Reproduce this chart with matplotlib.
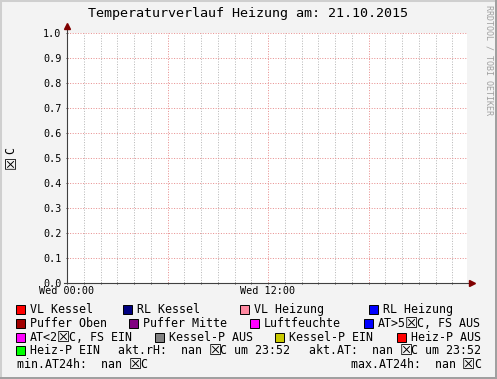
import numpy as np
import matplotlib
matplotlib.use('Agg')
from matplotlib import pyplot as plt
from matplotlib.patches import Rectangle

# chart content
BOX = '\u2612'   # stands in for the missing degree glyph of the original
title = 'Temperaturverlauf Heizung am: 21.10.2015'
y_ticks = [0.0, 0.1, 0.2, 0.3, 0.4, 0.5, 0.6, 0.7, 0.8, 0.9, 1.0]
hour_major = [0, 6, 12, 18]
hour_labels = ['Wed 00:00', '', 'Wed 12:00', '']
hour_minor = list(range(24))
x_span_hours = 23.88

legend_rows = [
    ['VL Kessel', 'RL Kessel', 'VL Heizung', 'RL Heizung'],
    ['Puffer Oben', 'Puffer Mitte', 'Luftfeuchte', 'AT>5' + BOX + 'C, FS AUS'],
    ['AT<2' + BOX + 'C, FS EIN', 'Kessel-P AUS', 'Kessel-P EIN', 'Heiz-P AUS'],
    ['Heiz-P EIN'],
]
legend_colors = [
    ['#ff0000', '#000080', '#ff88a0', '#0000ff'],
    ['#a00000', '#800080', '#ff00ff', '#0000ff'],
    ['#ff00ff', '#808080', '#c8c800', '#ff0000'],
    ['#00ff00'],
]
# x position of the coloured box per column (pixels), per row
legend_box_x = [
    [16, 123, 240, 369],
    [16, 129, 250, 364],
    [16, 155, 275, 397],
    [16],
]
rh_now = 'nan'
at_now = 'nan'
at_min = 'nan'
at_max = 'nan'
stamp = '23:52'

W, H = 497, 379
FONT = ['DejaVu Sans Mono', 'DejaVu Sans']
CW = 7.02    # advance of one mono char at 8.4pt
BW = 11      # advance of the box glyph
BOX_PT = 10.5


def fx(px):
    return px / W


def fy(py):
    return 1 - py / H


def mono_text(fig, x, y, s, ha='left'):
    # y is the visual middle of the row; text sits on a baseline 4 px lower
    base = y + 4.2
    parts = s.split(BOX)
    total = sum(len(p) for p in parts) * CW + (len(parts) - 1) * BW
    if ha == 'right':
        x -= total
    for i, p in enumerate(parts):
        fig.text(fx(x), fy(base), p, family=FONT, fontsize=8.4, ha='left', va='baseline')
        x += len(p) * CW
        if i < len(parts) - 1:
            fig.text(fx(x + BW / 2), fy(base + 0.8), BOX, family='DejaVu Sans', fontsize=BOX_PT,
                     ha='center', va='baseline')
            x += BW


def main():
    fig = plt.figure(figsize=(W / 100, H / 100), dpi=100)
    fig.patch.set_facecolor('#f3f3f3')

    # frame of the image
    fig.patches.append(Rectangle((0, 0), 1, 1, transform=fig.transFigure,
                                 fill=False, edgecolor='#cfcfcf', lw=2.2))
    fig.patches.append(Rectangle((fx(495), 0), fx(2), 1, transform=fig.transFigure,
                                 color='#a0a0a0', lw=0))
    fig.patches.append(Rectangle((0, 0), 1, fy(377), transform=fig.transFigure,
                                 color='#a0a0a0', lw=0))

    left, right, top, bottom = 67, 467, 33, 283
    ax = fig.add_axes([fx(left), fy(bottom), fx(right - left), (bottom - top) / H])
    ax.set_facecolor('white')
    ax.set_xlim(0, x_span_hours)
    ax.set_ylim(0, 1.0)

    dots = (0, (1, 1.6))
    for h in hour_minor:
        if h not in hour_major:
            ax.axvline(h, color='#b8b8b8', lw=0.72, ls=dots)
    for h in hour_major:
        ax.axvline(h, color='#e89090', lw=0.72, ls=dots)
    for v in y_ticks:
        ax.axhline(v, color='#e89090', lw=0.72, ls=dots)

    ax.set_xticks(hour_major)
    ax.set_xticklabels(hour_labels, family=FONT, fontsize=7.3)
    ax.set_xticks(hour_minor, minor=True)
    ax.set_yticks(y_ticks)
    ax.set_yticklabels(['%.1f' % v for v in y_ticks], family=FONT, fontsize=7.3)
    ax.tick_params(axis='both', which='both', length=2, width=0.7, color='#404040',
                   direction='inout', pad=2)
    ax.tick_params(axis='x', pad=1.5)
    ax.tick_params(axis='y', pad=3)
    for s in ax.spines.values():
        s.set_visible(False)

    # axes with arrows
    ax.plot([0, 0], [0, 1.02], transform=ax.transAxes, color='#404040', lw=0.8, clip_on=False)
    ax.plot([-0.008, 1.01], [0, 0], transform=ax.transAxes, color='#404040', lw=0.8, clip_on=False)
    ax.plot([0], [1.03], '^', transform=ax.transAxes, color='#800000', ms=4, clip_on=False)
    ax.plot([1.012], [0], '>', transform=ax.transAxes, color='#800000', ms=4, clip_on=False)

    fig.text(fx(248.5), fy(14), title, family=FONT, fontsize=9.6,
             ha='center', va='center')
    # y unit, rotated: "C" above the box
    fig.text(fx(11), fy(151), 'C', family=FONT, fontsize=8.4, rotation=90,
             ha='center', va='center')
    fig.text(fx(11.5), fy(162), BOX, family='DejaVu Sans', fontsize=BOX_PT, rotation=90,
             ha='center', va='center')
    fig.text(fx(489), fy(5), 'RRDTOOL / TOBI OETIKER', family=FONT, fontsize=6,
             rotation=270, ha='center', va='top', color='#a0a0a0')

    # legend
    row_y = [309, 323, 337, 350, 364]
    for r, labels in enumerate(legend_rows):
        for c, lab in enumerate(labels):
            bx = legend_box_x[r][c]
            fig.patches.append(Rectangle((fx(bx), fy(row_y[r] + 4.5)), fx(9), 9 / H,
                                         transform=fig.transFigure, facecolor=legend_colors[r][c],
                                         edgecolor='black', lw=0.7))
            mono_text(fig, bx + 14, row_y[r], lab)

    mono_text(fig, 118, row_y[3], 'akt.rH:  %s %sC um %s' % (rh_now, BOX, stamp))
    mono_text(fig, 309, row_y[3], 'akt.AT:  %s %sC um %s' % (at_now, BOX, stamp))
    mono_text(fig, 17, row_y[4], 'min.AT24h:  %s %sC' % (at_min, BOX))
    mono_text(fig, 481, row_y[4], 'max.AT24h:  %s %sC' % (at_max, BOX), ha='right')

    fig.savefig('out.png', dpi=100, facecolor=fig.get_facecolor())


if __name__ == '__main__':
    main()
